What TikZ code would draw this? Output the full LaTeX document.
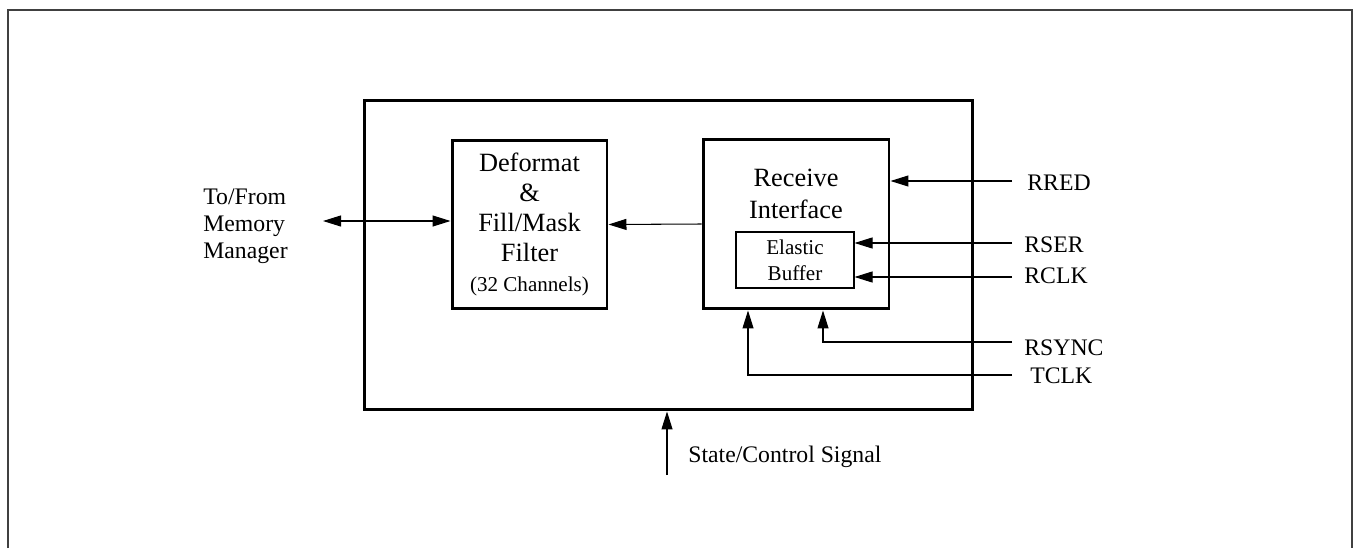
\documentclass[tikz,border=0pt]{standalone}
\usepackage{fontspec}
\setmainfont{Liberation Serif}
\usetikzlibrary{arrows.meta,positioning}

\begin{document}
\begin{tikzpicture}[
  x=0.02cm, y=-0.02cm,
  frame_out/.style={draw=black!75, line width=1.1pt},
  block_main/.style={rectangle, draw, line width=1.7pt,
    minimum width = 12.18cm, minimum height = 6.2cm},
  block_unit/.style={rectangle, draw, line width=1.7pt, text centered, align=center,
    font=\fontsize{15}{17}\selectfont},
  block_buf/.style={rectangle, draw, line width=0.6pt, align=center,
    font=\fontsize{12}{15}\selectfont, minimum width = 2.36cm, minimum height = 1.12cm},
  text_sig/.style={inner sep=0pt, anchor=west, font=\fontsize{13.5}{15.5}\selectfont},
  line_sig/.style={draw, line width=0.6pt, -{Triangle[length=0.36cm, width=0.22cm]}},
  line_both/.style={draw, line width=0.6pt,
    {Triangle[length=0.36cm, width=0.22cm]}-{Triangle[length=0.36cm, width=0.22cm]}}
  ]

\useasboundingbox (0,0) rectangle (1354,548);
\path [frame_out] (8,548) -- (8,10) -- (1352,10) -- (1352,548);

\node [block_main] (main) at (668.5,255) {};
\node [block_unit, minimum width = 3.1cm, minimum height = 3.38cm] (deformat) at (529.5,224.5)
  {Deformat\\\&\\Fill/Mask\\Filter\\{\fontsize{12}{14}\selectfont (32 Channels)}};
\node [block_unit, minimum width = 3.72cm, minimum height = 3.4cm] (receive) at (796,224) {};
\node [align=center, inner sep=0pt, font=\fontsize{15}{18}\selectfont] (rxtext) at (796,194) {Receive\\Interface};
\node [block_buf] (buffer) at (795,260) {Elastic\\Buffer};

\node [text_sig, align=left] (memory) at (203,226) {To/From\\Memory\\Manager};
\node [text_sig] (rred) at (1027,183) {RRED};
\node [text_sig] (rser) at (1024,245) {RSER};
\node [text_sig] (rclk) at (1024,276) {RCLK};
\node [text_sig] (rsync) at (1024,348) {RSYNC};
\node [text_sig] (tclk) at (1030,376) {TCLK};
\node [text_sig] (state) at (688,457) {State/Control Signal};

\coordinate (memEnd) at (323,221);
\coordinate (rredEnd) at (1012,181);
\coordinate (rserEnd) at (1012,243);
\coordinate (rclkEnd) at (1012,277);
\coordinate (rsyncEnd) at (1012,342);
\coordinate (tclkEnd) at (1012,375);
\coordinate (stateEnd) at (667,475);

\path [line_both] (memEnd) -- (memEnd -| deformat.west);
\path [line_sig] (receive.west) -- (deformat.east);
\path [line_sig] (rredEnd) -- (rredEnd -| receive.east);
\path [line_sig] (rserEnd) -- (rserEnd -| buffer.east);
\path [line_sig] (rclkEnd) -- (rclkEnd -| buffer.east);
\path [line_sig] (rsyncEnd) -| ([xshift=0.54cm]receive.south);
\path [line_sig] (tclkEnd) -| ([xshift=-0.96cm]receive.south);
\path [line_sig] (stateEnd) -- (stateEnd |- main.south);

\end{tikzpicture}
\end{document}
